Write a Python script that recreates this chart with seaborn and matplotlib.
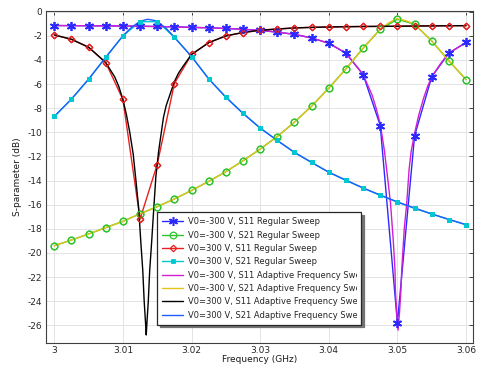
import matplotlib
matplotlib.use("Agg")
import matplotlib.pyplot as plt
import seaborn as sns
from matplotlib.transforms import Bbox

# ---------------- data ----------------
freq = [3.0, 3.0025, 3.005, 3.0075, 3.01, 3.0125, 3.015, 3.0175, 3.02, 3.0225,
        3.025, 3.0275, 3.03, 3.0325, 3.035, 3.0375, 3.04, 3.0425, 3.045, 3.0475,
        3.05, 3.0525, 3.055, 3.0575, 3.06]

s11_m300 = [-1.15, -1.16, -1.17, -1.18, -1.19, -1.21, -1.23, -1.26, -1.30, -1.34,
            -1.39, -1.46, -1.55, -1.70, -1.88, -2.18, -2.62, -3.44, -5.21, -9.44,
            -25.8, -10.3, -5.40, -3.44, -2.55]
s21_m300 = [-19.4, -18.93, -18.43, -17.9, -17.38, -16.75, -16.17, -15.53, -14.82, -14.07,
            -13.27, -12.36, -11.39, -10.35, -9.16, -7.83, -6.34, -4.74, -3.03, -1.46,
            -0.63, -1.04, -2.43, -4.08, -5.63]
s11_p300 = [-1.93, -2.29, -2.95, -4.22, -7.28, -17.2, -12.67, -5.96, -3.55, -2.57,
            -2.01, -1.73, -1.54, -1.43, -1.35, -1.29, -1.27, -1.24, -1.23, -1.22,
            -1.21, -1.18, -1.18, -1.16, -1.16]
s21_p300 = [-8.69, -7.25, -5.6, -3.78, -2.01, -0.83, -0.83, -2.12, -3.72, -5.57,
            -7.09, -8.43, -9.65, -10.68, -11.67, -12.5, -13.31, -13.99, -14.62, -15.23,
            -15.78, -16.31, -16.77, -17.24, -17.66]

# adaptive frequency sweep (smooth curves)
af_s11_m300 = [3.0, 3.005, 3.01, 3.015, 3.02, 3.025, 3.03, 3.0325, 3.035, 3.0375,
               3.04, 3.0425, 3.045, 3.0456, 3.0463, 3.0469, 3.0475, 3.0481, 3.0486, 3.049,
               3.0494, 3.04965, 3.0497, 3.0499, 3.0501, 3.0503, 3.0505, 3.05063, 3.051, 3.05136,
               3.0517, 3.052, 3.0525, 3.0531, 3.0538, 3.0544, 3.055, 3.0563, 3.0575, 3.06]
ad_s11_m300 = [-1.15, -1.17, -1.19, -1.23, -1.30, -1.39, -1.55, -1.70, -1.88, -2.18,
               -2.62, -3.44, -5.21, -6.0, -6.9, -8.0, -9.3, -11.5, -13.9, -15.9,
               -19.0, -21.4, -23.0, -25.0, -26.4, -25.0, -23.2, -21.4, -18.0, -15.9,
               -13.1, -11.6, -10.1, -8.6, -7.2, -6.2, -5.4, -4.3, -3.44, -2.55]

af_s21_m300 = [3.0, 3.0025, 3.005, 3.0075, 3.01, 3.0125, 3.015, 3.0175, 3.02, 3.0225,
               3.025, 3.0275, 3.03, 3.0325, 3.035, 3.0375, 3.04, 3.0425, 3.045, 3.0475,
               3.04875, 3.0499, 3.05125, 3.0525, 3.055, 3.0575, 3.06]
ad_s21_m300 = [-19.4, -18.93, -18.43, -17.9, -17.38, -16.75, -16.17, -15.53, -14.82, -14.07,
               -13.27, -12.36, -11.39, -10.35, -9.16, -7.83, -6.34, -4.74, -3.03, -1.46,
               -0.92, -0.58, -0.75, -1.04, -2.43, -4.08, -5.63]

af_s11_p300 = [3.0, 3.0025, 3.005, 3.0075, 3.0088, 3.0094, 3.01, 3.0105, 3.011, 3.0115,
               3.0119, 3.0123, 3.0126, 3.0129, 3.0131, 3.0133, 3.0134, 3.0135, 3.0137, 3.0139,
               3.0142, 3.0145, 3.0148, 3.0152, 3.0156, 3.0159, 3.0163, 3.0169, 3.0175, 3.0181,
               3.0188, 3.02, 3.0225, 3.025, 3.0275, 3.03, 3.035, 3.04, 3.045, 3.05,
               3.055, 3.06]
ad_s11_p300 = [-1.93, -2.29, -2.95, -4.22, -5.4, -6.2, -7.28, -8.5, -10.0, -11.8,
               -14.0, -16.3, -19.0, -21.5, -24.0, -25.8, -26.8, -25.8, -24.0, -21.5,
               -19.0, -16.3, -13.7, -11.6, -10.0, -8.8, -7.8, -6.8, -5.8, -5.1,
               -4.5, -3.55, -2.57, -2.01, -1.73, -1.54, -1.35, -1.27, -1.23, -1.21,
               -1.18, -1.16]

af_s21_p300 = [3.0, 3.0025, 3.005, 3.0075, 3.01, 3.01125, 3.0125, 3.0136, 3.0148, 3.01625,
               3.0175, 3.02, 3.0225, 3.025, 3.0275, 3.03, 3.0325, 3.035, 3.0375, 3.04,
               3.045, 3.05, 3.055, 3.06]
ad_s21_p300 = [-8.69, -7.25, -5.6, -3.78, -2.01, -1.3, -0.8, -0.63, -0.75, -1.35,
               -2.12, -3.72, -5.57, -7.09, -8.43, -9.65, -10.68, -11.67, -12.5, -13.31,
               -14.62, -15.78, -16.77, -17.66]

labels = ["V0=-300 V, S11 Regular Sweep",
          "V0=-300 V, S21 Regular Sweep",
          "V0=300 V, S11 Regular Sweep",
          "V0=300 V, S21 Regular Sweep",
          "V0=-300 V, S11 Adaptive Frequency Sweep",
          "V0=-300 V, S21 Adaptive Frequency Sweep",
          "V0=300 V, S11 Adaptive Frequency Sweep",
          "V0=300 V, S21 Adaptive Frequency Sweep"]

xticks = [3.0, 3.01, 3.02, 3.03, 3.04, 3.05, 3.06]
xtick_labels = ["3", "3.01", "3.02", "3.03", "3.04", "3.05", "3.06"]
yticks = [0, -2, -4, -6, -8, -10, -12, -14, -16, -18, -20, -22, -24, -26]
ytick_labels = ["0", "-2", "-4", "-6", "-8", "-10", "-12", "-14", "-16", "-18",
                "-20", "-22", "-24", "-26"]

# ---------------- style ----------------
sns.set_theme(style="white")
plt.rcParams["font.family"] = ["DejaVu Sans"]

fig = plt.figure(figsize=(4.79, 3.66), dpi=100)
ax = fig.add_axes([0.0954, 0.0637, 0.8927, 0.9071])

c_blue = "#2a2aff"
c_green = "#2ec42e"
c_red = "#e82020"
c_cyan = "#00c8d0"
c_mag = "#d21ed2"
c_gold = "#e2c41c"
c_black = "#000000"
c_blue2 = "#1f5cff"

regular = [
    (s11_m300, c_blue, (6, 2, 0), 6.5, c_blue, 1.1),
    (s21_m300, c_green, "o", 4.8, "none", 0.9),
    (s11_p300, c_red, "D", 3.3, "none", 0.9),
    (s21_p300, c_cyan, "s", 3.3, c_cyan, 0.6),
]
for vals, col, mk, ms, mfc, mew in regular:
    sns.lineplot(x=freq, y=vals, ax=ax, color=col, lw=1.0, marker=mk,
                 markersize=ms, markerfacecolor=mfc, markeredgecolor=col,
                 markeredgewidth=mew, zorder=2)

adaptive = [
    (af_s11_m300, ad_s11_m300, c_mag),
    (af_s21_m300, ad_s21_m300, c_gold),
    (af_s11_p300, ad_s11_p300, c_black),
    (af_s21_p300, ad_s21_p300, c_blue2),
]
for fx, vals, col in adaptive:
    sns.lineplot(x=fx, y=vals, ax=ax, color=col, lw=1.0, zorder=3)

# markers of the regular sweep drawn above adaptive curves
for vals, col, mk, ms, mfc, mew in regular:
    sns.lineplot(x=freq, y=vals, ax=ax, color=col, linestyle="none", marker=mk,
                 markersize=ms, markerfacecolor=mfc, markeredgecolor=col,
                 markeredgewidth=mew, zorder=4)

ax.set_xlim(2.99875, 3.06106)
ax.set_ylim(-27.44, 0.08)
ax.set_xticks(xticks)
ax.set_xticklabels(xtick_labels)
ax.set_yticks(yticks)
ax.set_yticklabels(ytick_labels)
ax.tick_params(direction="in", top=True, right=True, length=3, width=0.6,
               labelsize=6.5, pad=2.5, colors="0.15")
ax.grid(True, color="#e3e3e3", lw=0.7)
ax.set_axisbelow(True)
for sp in ax.spines.values():
    sp.set_color("0.25")
    sp.set_linewidth(0.8)

ax.set_xlabel("Frequency (GHz)", fontsize=6.5, labelpad=0, color="0.1")
ax.set_ylabel("S-parameter (dB)", fontsize=6.5, labelpad=4, color="0.1")

handles = ax.get_lines()[:8]
leg = ax.legend(handles=handles, labels=labels, loc="upper left",
                bbox_to_anchor=(0.261, 0.038, 0.477, 0.355), mode="expand",
                borderaxespad=0, fontsize=6, frameon=True, fancybox=False,
                shadow={"color": "0.45", "alpha": 1.0}, edgecolor="0.15",
                framealpha=1, borderpad=0.6, handlelength=2.5,
                handletextpad=0.55, labelspacing=0.52, numpoints=1)
leg.get_frame().set_linewidth(0.9)
leg.set_zorder(10)

fig.canvas.draw()
fb = leg.get_frame().get_window_extent()
bb = Bbox.from_extents(fb.x0, fb.y0, fb.x1 - 4, fb.y1)
for t in leg.get_texts():
    t.set_clip_box(bb)
    t.set_clip_on(True)

fig.savefig("out.png", dpi=100)
